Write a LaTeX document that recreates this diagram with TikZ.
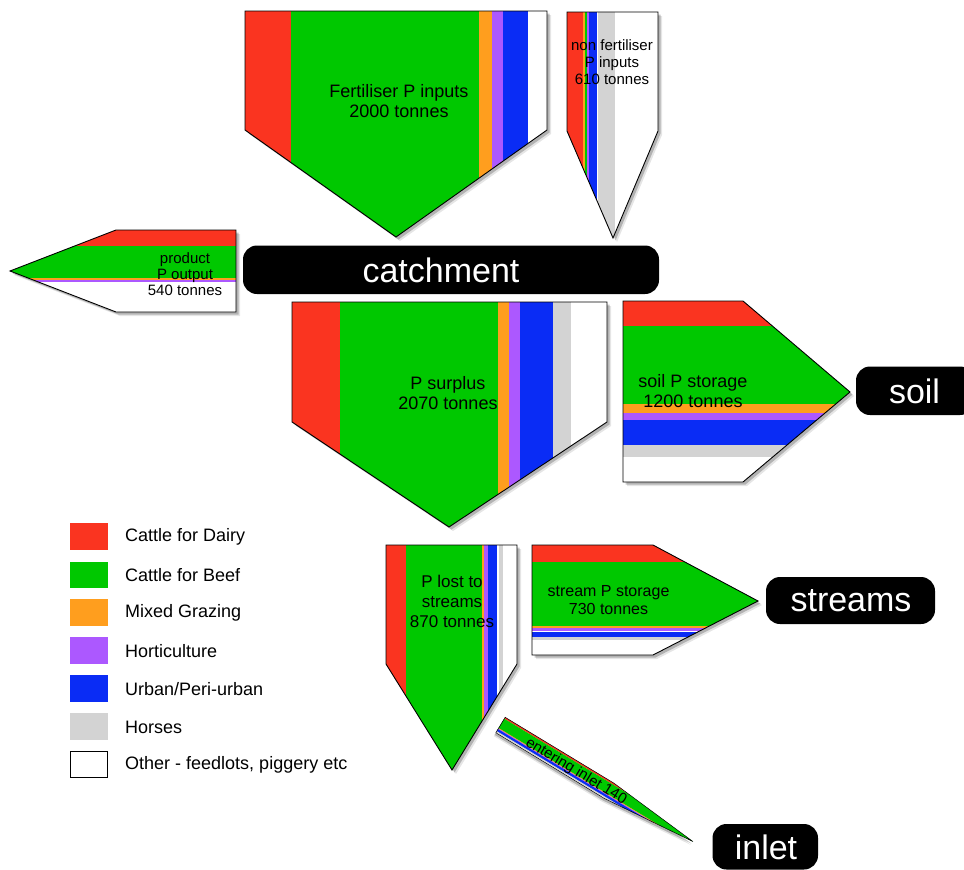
\documentclass[tikz,border=0pt]{standalone}
\usepackage{fontspec}
\setmainfont{Liberation Sans}
\definecolor{cDairy}{RGB}{250,52,32}
\definecolor{cBeef}{RGB}{0,200,0}
\definecolor{cMixed}{RGB}{255,158,30}
\definecolor{cHort}{RGB}{172,88,255}
\definecolor{cUrban}{RGB}{10,44,245}
\definecolor{cHorse}{RGB}{211,211,211}
\definecolor{cOther}{RGB}{255,255,255}
\tikzset{
  outline/.style={draw=black, line width=0.9pt, line join=miter},
  shadowA/.style={fill=black, opacity=0.22},
  shadowB/.style={fill=black, opacity=0.10},
  lblbox/.style={fill=black, rounded corners=14pt, draw=none},
  lbltxt/.style={text=white, font=\fontsize{34}{38}\selectfont, inner sep=0pt},
  flowtxt/.style={align=center, text=black, font=\fontsize{18}{20}\selectfont, inner sep=0pt},
  legtxt/.style={anchor=west, text=black, font=\fontsize{18}{20}\selectfont, inner sep=0pt}
}
% shape outlines
\def\pA{(245,11) -- (547,11) -- (547,130) -- (396,237) -- (245,130) -- cycle}
\def\pB{(567,12) -- (658,12) -- (658,131) -- (613,238) -- (567,131) -- cycle}
\def\pC{(10,271) -- (116,230) -- (236,230) -- (236,312) -- (116,312) -- cycle}
\def\pD{(292,302) -- (607,302) -- (607,422) -- (449,527) -- (292,422) -- cycle}
\def\pE{(623,301) -- (743,301) -- (850,392) -- (743,482) -- (623,482) -- cycle}
\def\pF{(386,545) -- (517,545) -- (517,664) -- (452,770) -- (386,664) -- cycle}
\def\pG{(532,545) -- (653,545) -- (758,601) -- (653,655) -- (532,655) -- cycle}
\def\pH{(0,-9) -- (127,-9) -- (225,0) -- (127,9) -- (0,9) -- cycle}
\begin{document}
\begin{tikzpicture}[x=1pt,y=-1pt]
\useasboundingbox (0,0) rectangle (964,870);
\fill[white] (0,0) rectangle (964,870);

% ---------- shadows ----------
\foreach \s in {\pA,\pB,\pC,\pD,\pE,\pF,\pG}{
  \fill[shadowB, shift={(4,4)}] \s;
  \fill[shadowA, shift={(2.5,2.5)}] \s;
}
\begin{scope}[shift={(500.5,725)}, rotate=-31.2]
  \fill[shadowB, shift={(0,4)}] \pH;
  \fill[shadowA, shift={(0,2.5)}] \pH;
\end{scope}

% ---------- Fertiliser P inputs ----------
\begin{scope}
  \clip \pA;
  \fill[cDairy] (245,0) rectangle (291,300);
  \fill[cBeef]  (291,0) rectangle (479,300);
  \fill[cMixed] (479,0) rectangle (492,300);
  \fill[cHort]  (492,0) rectangle (503,300);
  \fill[cUrban] (503,0) rectangle (528,300);
  \fill[cOther] (528,0) rectangle (548,300);
\end{scope}
\draw[outline] \pA;
\node[flowtxt] (fert) at (399,101) {Fertiliser P inputs\\2000 tonnes};

% ---------- non fertiliser P inputs ----------
\begin{scope}
  \clip \pB;
  \fill[cDairy] (567,0) rectangle (583.3,300);
  \fill[cMixed] (583.3,0) rectangle (584.6,300);
  \fill[cBeef]  (584.6,0) rectangle (586.6,300);
  \fill[cHort]  (586.6,0) rectangle (589,300);
  \fill[cUrban] (589,0) rectangle (597,300);
  \fill[cOther] (597,0) rectangle (598,300);
  \fill[cHorse] (598,0) rectangle (615,300);
  \fill[cOther] (615,0) rectangle (659,300);
\end{scope}
\draw[outline] \pB;
\node[flowtxt, font=\fontsize{15}{17}\selectfont] (nonfert) at (612,62) {non fertiliser\\P inputs\\610 tonnes};

% ---------- product P output ----------
\begin{scope}
  \clip \pC;
  \fill[cDairy] (0,229) rectangle (237,246);
  \fill[cBeef]  (0,246) rectangle (237,278.3);
  \fill[cMixed] (0,278.3) rectangle (237,280);
  \fill[cHort]  (0,280) rectangle (237,281.5);
  \fill[cOther] (0,281.5) rectangle (237,313);
\end{scope}
\draw[outline] \pC;
\node[flowtxt, font=\fontsize{15}{16.2}\selectfont] (prod) at (185,274) {product\\P output\\540 tonnes};

% ---------- catchment label ----------
\path[lblbox] (243,245.5) rectangle (659,294);
\node[lbltxt] (catch) at (441,270) {catchment};

% ---------- P surplus ----------
\begin{scope}
  \clip \pD;
  \fill[cDairy] (292,300) rectangle (340,530);
  \fill[cBeef]  (340,300) rectangle (498.3,530);
  \fill[cMixed] (498.3,300) rectangle (509.3,530);
  \fill[cHort]  (509.3,300) rectangle (520,530);
  \fill[cUrban] (520,300) rectangle (553.3,530);
  \fill[cHorse] (553.3,300) rectangle (570.7,530);
  \fill[cOther] (570.7,300) rectangle (608,530);
\end{scope}
\draw[outline] \pD;
\node[flowtxt] (surplus) at (448,393) {P surplus\\2070 tonnes};

% ---------- soil P storage ----------
\begin{scope}
  \clip \pE;
  \fill[cDairy] (620,300) rectangle (852,326);
  \fill[cBeef]  (620,326) rectangle (852,404.3);
  \fill[cMixed] (620,404.3) rectangle (852,412.7);
  \fill[cHort]  (620,412.7) rectangle (852,420);
  \fill[cUrban] (620,420) rectangle (852,445);
  \fill[cHorse] (620,445) rectangle (852,457.3);
  \fill[cOther] (620,457.3) rectangle (852,483);
\end{scope}
\draw[outline] \pE;
\node[flowtxt] (soilstore) at (693,391) {soil P storage\\1200 tonnes};

% ---------- soil label ----------
\path[lblbox] (856,366.5) rectangle (974,415);
\node[lbltxt] (soil) at (914.5,391) {soil};

% ---------- P lost to streams ----------
\begin{scope}
  \clip \pF;
  \fill[cDairy] (386,540) rectangle (406,775);
  \fill[cBeef]  (406,540) rectangle (481.7,775);
  \fill[cMixed] (481.7,540) rectangle (484,775);
  \fill[cHort]  (484,540) rectangle (488.3,775);
  \fill[cUrban] (488.3,540) rectangle (497.3,775);
  \fill[cOther] (497.3,540) rectangle (498.5,775);
  \fill[cHorse] (498.5,540) rectangle (503.3,775);
  \fill[cOther] (503.3,540) rectangle (518,775);
\end{scope}
\draw[outline] \pF;
\node[flowtxt, font=\fontsize{17}{20}\selectfont] (lost) at (452,601.5) {P lost to\\streams\\870 tonnes};

% ---------- stream P storage ----------
\begin{scope}
  \clip \pG;
  \fill[cDairy] (530,544) rectangle (760,562.3);
  \fill[cBeef]  (530,562.3) rectangle (760,625.7);
  \fill[cMixed] (530,625.7) rectangle (760,627.8);
  \fill[cHort]  (530,627.8) rectangle (760,630.6);
  \fill[cOther] (530,630.6) rectangle (760,631.6);
  \fill[cUrban] (530,631.6) rectangle (760,637);
  \fill[cHorse] (530,637) rectangle (760,640);
  \fill[cOther] (530,640) rectangle (760,656);
\end{scope}
\draw[outline] \pG;
\node[flowtxt, font=\fontsize{16}{18.6}\selectfont] (streamstore) at (608.5,600) {stream P storage\\730 tonnes};

% ---------- streams label ----------
\path[lblbox] (766,577) rectangle (935,624);
\node[lbltxt] (streams) at (851,601) {streams};

% ---------- entering inlet ----------
\begin{scope}[shift={(500.5,725)}, rotate=-31.2]
  \begin{scope}
    \clip \pH;
    \fill[cDairy] (-1,-10) rectangle (226,-7.3);
    \fill[cBeef]  (-1,-7.3) rectangle (226,3.6);
    \fill[cMixed] (-1,3.6) rectangle (226,4.3);
    \fill[cHort]  (-1,4.3) rectangle (226,4.9);
    \fill[cUrban] (-1,4.9) rectangle (226,7.2);
    \fill[cHorse] (-1,7.2) rectangle (226,8.3);
    \fill[cOther] (-1,8.3) rectangle (226,10);
  \end{scope}
  \draw[outline, line width=0.5pt] \pH;
\end{scope}
\node[flowtxt, font=\fontsize{15}{17}\selectfont, rotate=-31.2] (inlettxt) at (576,771.5) {entering inlet 140};

% ---------- inlet label ----------
\path[lblbox] (712.5,824) rectangle (818,869.5);
\node[lbltxt] (inlet) at (766,847) {inlet};

% ---------- legend ----------
\fill[cDairy] (70,523.3) rectangle (107.7,550);
\fill[cBeef]  (70,561.7) rectangle (107.7,588);
\fill[cMixed] (70,599.3) rectangle (107.7,626);
\fill[cHort]  (70,637.3) rectangle (107.7,664);
\fill[cUrban] (70,675) rectangle (107.7,702);
\fill[cHorse] (70,713.3) rectangle (107.7,740);
\filldraw[fill=cOther, draw=black, line width=1pt] (70.5,751.2) rectangle (107.2,777.5);
\node[legtxt] (l1) at (125,537) {Cattle for Dairy};
\node[legtxt] (l2) at (125,575) {Cattle for Beef};
\node[legtxt] (l3) at (125,613) {Mixed Grazing};
\node[legtxt] (l4) at (125,651) {Horticulture};
\node[legtxt] (l5) at (125,689) {Urban/Peri-urban};
\node[legtxt] (l6) at (125,727) {Horses};
\node[legtxt] (l7) at (125,765) {Other - feedlots, piggery etc};
\end{tikzpicture}
\end{document}
